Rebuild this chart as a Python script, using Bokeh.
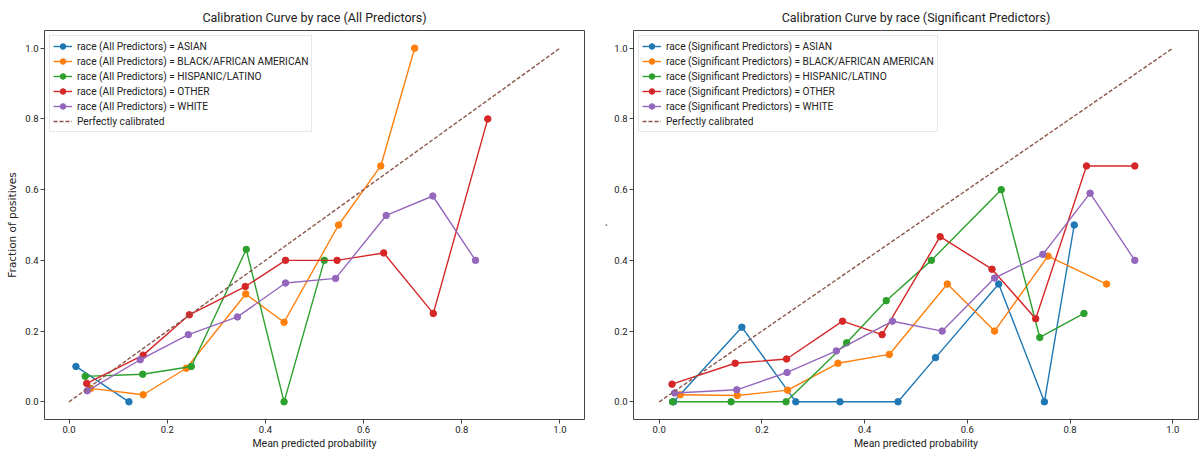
from bokeh.plotting import figure
from bokeh.layouts import row
from bokeh.models import Range1d, FixedTicker, NumeralTickFormatter
from bokeh.embed import file_html
from bokeh.resources import INLINE

# ---------------- data ----------------
categories = ["ASIAN", "BLACK/AFRICAN AMERICAN", "HISPANIC/LATINO", "OTHER", "WHITE"]
colors = ["#1f77b4", "#ff7f0e", "#2ca02c", "#d62728", "#9467bd"]
ticks = [0.0, 0.2, 0.4, 0.6, 0.8, 1.0]
calib_x = [0.0, 1.0]
calib_y = [0.0, 1.0]

# All predictors
all_asian_x = [0.014, 0.122]
all_asian_y = [0.100, 0.000]
all_black_x = [0.044, 0.151, 0.239, 0.360, 0.438, 0.549, 0.635, 0.704]
all_black_y = [0.038, 0.020, 0.095, 0.305, 0.225, 0.500, 0.667, 1.000]
all_hisp_x = [0.033, 0.150, 0.249, 0.361, 0.438, 0.520]
all_hisp_y = [0.072, 0.078, 0.100, 0.431, 0.000, 0.400]
all_other_x = [0.036, 0.151, 0.245, 0.359, 0.441, 0.546, 0.641, 0.742, 0.853]
all_other_y = [0.052, 0.132, 0.246, 0.326, 0.400, 0.400, 0.421, 0.250, 0.800]
all_white_x = [0.037, 0.145, 0.243, 0.343, 0.441, 0.543, 0.646, 0.741, 0.828]
all_white_y = [0.031, 0.119, 0.190, 0.240, 0.336, 0.349, 0.527, 0.582, 0.400]

# Significant predictors
sig_asian_x = [0.028, 0.161, 0.266, 0.352, 0.465, 0.538, 0.661, 0.750, 0.808]
sig_asian_y = [0.000, 0.211, 0.000, 0.000, 0.000, 0.125, 0.333, 0.000, 0.500]
sig_black_x = [0.041, 0.152, 0.250, 0.348, 0.448, 0.561, 0.653, 0.757, 0.871]
sig_black_y = [0.020, 0.018, 0.033, 0.109, 0.134, 0.333, 0.200, 0.412, 0.333]
sig_hisp_x = [0.026, 0.140, 0.247, 0.365, 0.442, 0.530, 0.666, 0.741, 0.827]
sig_hisp_y = [0.000, 0.000, 0.000, 0.167, 0.286, 0.400, 0.600, 0.182, 0.250]
sig_other_x = [0.025, 0.148, 0.248, 0.357, 0.434, 0.547, 0.648, 0.733, 0.832, 0.926]
sig_other_y = [0.050, 0.109, 0.121, 0.228, 0.190, 0.467, 0.375, 0.235, 0.667, 0.667]
sig_white_x = [0.030, 0.151, 0.249, 0.345, 0.454, 0.551, 0.653, 0.747, 0.839, 0.926]
sig_white_y = [0.025, 0.034, 0.083, 0.144, 0.228, 0.200, 0.350, 0.417, 0.590, 0.400]

x_label = "Mean predicted probability"

FONT = "Roboto"
TXT = "#222222"
SPINE = "#444444"


def make_fig(title, prefix, xs, ys, width, left, right, ylabel):
    p = figure(width=width, height=452, title=title,
               x_range=Range1d(-0.05, 1.05), y_range=Range1d(-0.05, 1.05),
               output_backend="svg", toolbar_location=None,
               min_border_left=left, min_border_right=right,
               min_border_top=30, min_border_bottom=32)
    p.title.align = "center"
    p.title.text_font = FONT
    p.title.text_font_size = "12.5px"
    p.title.text_font_style = "normal"
    p.title.text_color = TXT
    p.title.standoff = 12
    p.grid.visible = False
    p.outline_line_color = SPINE
    p.outline_line_width = 1
    p.outline_line_alpha = 1
    for ax in (p.xaxis[0], p.yaxis[0]):
        ax.ticker = FixedTicker(ticks=ticks)
        ax.formatter = NumeralTickFormatter(format="0.0")
        ax.axis_line_color = None
        ax.major_tick_line_color = SPINE
        ax.major_tick_in = 0
        ax.major_tick_out = 4
        ax.minor_tick_line_color = None
        ax.major_label_text_font = FONT
        ax.major_label_text_font_size = "9.5px"
        ax.major_label_text_color = TXT
        ax.major_label_standoff = 2
        ax.axis_label_text_font_style = "normal"
        ax.axis_label_text_color = TXT
    p.xaxis.axis_label = x_label
    p.xaxis.axis_label_text_font = FONT
    p.xaxis.axis_label_text_font_size = "10.5px"
    p.xaxis.axis_label_standoff = 1
    p.yaxis.axis_label = ylabel
    p.yaxis.axis_label_text_font = "DejaVu Sans"
    p.yaxis.axis_label_text_font_size = "10.5px"
    p.yaxis.axis_label_standoff = 4

    for cat, col, x, y in zip(categories, colors, xs, ys):
        lab = f"race ({prefix}) = {cat}"
        p.line(x, y, color=col, line_width=1.4, legend_label=lab)
        p.scatter(x, y, size=6.5, color=col, legend_label=lab)
    p.line(calib_x, calib_y, color="#8c564b", line_width=1.4, line_dash="4 2",
           legend_label="Perfectly calibrated")

    lg = p.legend[0]
    lg.location = "top_left"
    lg.margin = 5
    lg.padding = 3
    lg.spacing = 1
    lg.label_height = 14
    lg.glyph_height = 14
    lg.glyph_width = 19
    lg.label_standoff = 5
    lg.label_text_font = FONT
    lg.label_text_font_size = "10.2px"
    lg.label_text_color = TXT
    lg.border_line_color = "#d0d0d0"
    lg.border_line_width = 1
    lg.background_fill_alpha = 0.85
    return p


p1 = make_fig("Calibration Curve by race (All Predictors)", "All Predictors",
              [all_asian_x, all_black_x, all_hisp_x, all_other_x, all_white_x],
              [all_asian_y, all_black_y, all_hisp_y, all_other_y, all_white_y],
              594, 44, 10, "Fraction of positives")
p2 = make_fig("Calibration Curve by race (Significant Predictors)", "Significant Predictors",
              [sig_asian_x, sig_black_x, sig_hisp_x, sig_other_x, sig_white_x],
              [sig_asian_y, sig_black_y, sig_hisp_y, sig_other_y, sig_white_y],
              605, 39, 1, ".")

layout = row(p1, p2)
open("out.html", "w").write(file_html(layout, INLINE))
